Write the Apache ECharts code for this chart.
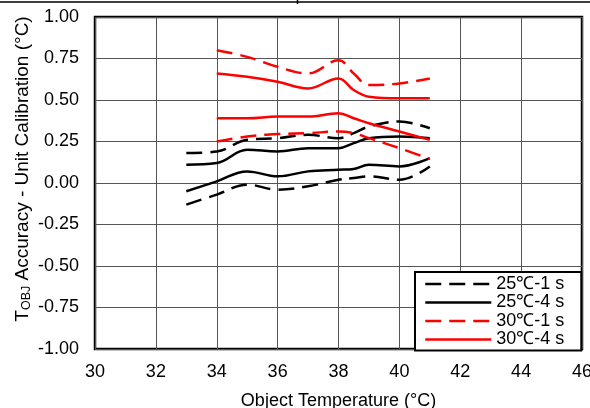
<!DOCTYPE html>
<html>
<head>
<meta charset="utf-8">
<script src="https://cdn.jsdelivr.net/npm/echarts@6/dist/echarts.min.js"></script>
<style>
  html, body { margin: 0; padding: 0; background: #fff; }
  #chart { width: 590px; height: 408px; }
</style>
</head>
<body>
<div id="chart"></div>
<script>
// 横轴温度点
const temps25 = [33, 34, 35, 36, 37, 38, 38.5, 39, 40, 41];
const temps30 = [34, 35, 36, 37, 38, 38.5, 39, 40, 41];

// 25℃ 数据（上下两条）
const dash25Upper = [0.18, 0.19, 0.26, 0.27, 0.29, 0.27, 0.30, 0.34, 0.37, 0.33];
const dash25Lower = [-0.13, -0.07, -0.01, -0.04, -0.02, 0.02, 0.03, 0.04, 0.02, 0.10];
const solid25Upper = [0.11, 0.12, 0.20, 0.19, 0.21, 0.21, 0.24, 0.27, 0.28, 0.27];
const solid25Lower = [-0.05, 0.01, 0.07, 0.04, 0.07, 0.08, 0.085, 0.11, 0.10, 0.15];

// 30℃ 数据（上下两条）
const dash30Upper = [0.80, 0.76, 0.70, 0.66, 0.74, 0.66, 0.59, 0.60, 0.63];
const dash30Lower = [0.25, 0.28, 0.295, 0.30, 0.31, 0.30, 0.27, 0.21, 0.145];
const solid30Upper = [0.66, 0.64, 0.61, 0.57, 0.63, 0.56, 0.52, 0.51, 0.51];
const solid30Lower = [0.39, 0.39, 0.40, 0.40, 0.42, 0.39, 0.36, 0.31, 0.26];

const names = ['25℃-1 s', '25℃-4 s', '30℃-1 s', '30℃-4 s'];
const font = 'Liberation Sans, Arial, sans-serif';

function pairs(xs, ys) {
  return xs.map((x, i) => [x, ys[i]]);
}

function mkLine(name, xs, ys, color, dashed) {
  return {
    name: name,
    type: 'line',
    symbol: 'none',
    smooth: 0.4,
    data: pairs(xs, ys),
    itemStyle: { color: color },
    lineStyle: { color: color, width: 2.5, type: dashed ? [16, 8] : 'solid' },
    z: 3
  };
}

const chart = echarts.init(document.getElementById('chart'));
chart.setOption({
  backgroundColor: '#fff',
  animation: false,
  textStyle: { fontFamily: font },
  grid: {
    left: 95, right: 8, top: 17, bottom: 59,
    outerBoundsMode: 'none',
    show: true, borderColor: '#000', borderWidth: 2.5
  },
  graphic: [
    { type: 'line', shape: { x1: 0, y1: 2, x2: 590, y2: 2 }, style: { stroke: '#000', lineWidth: 1.5 } },
    { type: 'line', shape: { x1: 297.5, y1: 0, x2: 297.5, y2: 4 }, style: { stroke: '#000', lineWidth: 1.5 } }
  ],
  legend: {
    data: names,
    orient: 'vertical',
    left: 415,
    top: 272,
    itemWidth: 66,
    itemHeight: 14,
    itemGap: 0.5,
    padding: [3, 17, 2, 9],
    backgroundColor: '#fff',
    borderColor: '#000',
    borderWidth: 2,
    itemStyle: { opacity: 0 },
    lineStyle: { width: 2.5 },
    textStyle: { color: '#000', fontSize: 18, lineHeight: 18, fontFamily: font }
  },
  xAxis: {
    type: 'value',
    min: 30,
    max: 46,
    interval: 2,
    name: 'Object Temperature (°C)',
    nameLocation: 'middle',
    nameGap: 43,
    nameMoveOverlap: false,
    nameTextStyle: { color: '#000', fontSize: 18, fontFamily: font },
    axisLine: { show: false },
    axisTick: { show: false },
    axisLabel: { color: '#000', fontSize: 18, margin: 14, fontFamily: font },
    splitLine: { lineStyle: { color: '#555', width: 1 } }
  },
  yAxis: {
    type: 'value',
    min: -1,
    max: 1,
    interval: 0.25,
    name: '{a|T}{b|OBJ}{a| Accuracy - Unit Calibration (°C)}',
    nameLocation: 'middle',
    nameGap: 62,
    nameMoveOverlap: false,
    nameTextStyle: {
      color: '#000',
      fontFamily: font,
      padding: [0, 0, 0, 28],
      rich: {
        a: { fontSize: 19, color: '#000', fontFamily: font },
        b: { fontSize: 12.5, color: '#000', fontFamily: font, verticalAlign: 'bottom', padding: [7, 0, 0, 0] }
      }
    },
    axisLine: { show: false },
    axisTick: { show: false },
    axisLabel: {
      color: '#000',
      fontSize: 18,
      margin: 16,
      fontFamily: font,
      formatter: v => v.toFixed(2)
    },
    splitLine: { lineStyle: { color: '#555', width: 1 } }
  },
  series: [
    mkLine(names[0], temps25, dash25Upper, '#000', true),
    mkLine(names[0], temps25, dash25Lower, '#000', true),
    mkLine(names[1], temps25, solid25Upper, '#000', false),
    mkLine(names[1], temps25, solid25Lower, '#000', false),
    mkLine(names[2], temps30, dash30Upper, '#ff0000', true),
    mkLine(names[2], temps30, dash30Lower, '#ff0000', true),
    mkLine(names[3], temps30, solid30Upper, '#ff0000', false),
    mkLine(names[3], temps30, solid30Lower, '#ff0000', false)
  ]
});
</script>
</body>
</html>
